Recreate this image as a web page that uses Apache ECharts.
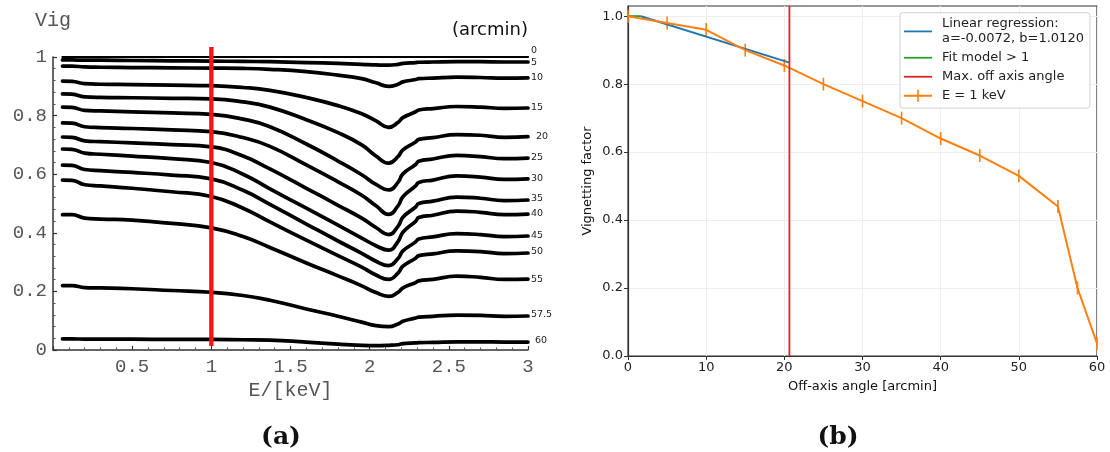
<!DOCTYPE html>
<html>
<head>
<meta charset="utf-8">
<script src="https://cdn.jsdelivr.net/npm/echarts@6/dist/echarts.min.js"></script>
<style>
  html, body { margin: 0; padding: 0; background: #fff; }
  #chart { width: 1110px; height: 452px; }
</style>
</head>
<body>
<div id="chart"></div>
<script>
// ---------- panel (a): vignetting vs. energy, one curve per off-axis angle ----------
const ENERGY_KEV = [0.06, 0.12, 0.2, 0.3, 0.5, 0.75, 1.0, 1.2, 1.37, 1.6, 1.8, 1.95, 2.04, 2.12, 2.18, 2.21, 2.29, 2.31, 2.4, 2.55, 2.7, 2.85, 3.0];

const VIG_0    = [1.000, 1.000, 1.000, 1.000, 1.000, 1.000, 1.000, 1.000, 1.000, 1.000, 1.000, 1.000, 1.000, 1.000, 1.000, 1.000, 1.000, 1.000, 1.000, 1.000, 1.000, 1.000, 1.000];
const VIG_5    = [0.990, 0.990, 0.989, 0.989, 0.988, 0.987, 0.986, 0.985, 0.984, 0.981, 0.978, 0.975, 0.973, 0.972, 0.975, 0.978, 0.981, 0.982, 0.983, 0.984, 0.984, 0.983, 0.983];
const VIG_10   = [0.969, 0.969, 0.966, 0.965, 0.964, 0.963, 0.962, 0.961, 0.958, 0.950, 0.938, 0.926, 0.912, 0.900, 0.907, 0.915, 0.923, 0.926, 0.928, 0.931, 0.930, 0.928, 0.929];
const VIG_15   = [0.918, 0.917, 0.909, 0.907, 0.906, 0.904, 0.902, 0.896, 0.886, 0.862, 0.834, 0.806, 0.782, 0.760, 0.777, 0.793, 0.813, 0.819, 0.824, 0.831, 0.829, 0.825, 0.826];
const VIG_20   = [0.874, 0.873, 0.864, 0.862, 0.861, 0.859, 0.857, 0.847, 0.829, 0.786, 0.742, 0.700, 0.662, 0.638, 0.661, 0.683, 0.710, 0.719, 0.725, 0.735, 0.733, 0.726, 0.728];
const VIG_25   = [0.829, 0.828, 0.818, 0.816, 0.813, 0.809, 0.804, 0.788, 0.762, 0.703, 0.645, 0.598, 0.565, 0.546, 0.573, 0.601, 0.633, 0.644, 0.652, 0.664, 0.660, 0.653, 0.655];
const VIG_30   = [0.775, 0.774, 0.762, 0.759, 0.756, 0.751, 0.745, 0.725, 0.695, 0.632, 0.574, 0.528, 0.492, 0.463, 0.493, 0.523, 0.560, 0.572, 0.580, 0.594, 0.590, 0.582, 0.584];
const VIG_35   = [0.727, 0.726, 0.714, 0.711, 0.707, 0.701, 0.693, 0.662, 0.618, 0.552, 0.494, 0.450, 0.418, 0.394, 0.423, 0.453, 0.488, 0.500, 0.508, 0.522, 0.518, 0.510, 0.512];
const VIG_40   = [0.686, 0.685, 0.672, 0.668, 0.662, 0.653, 0.640, 0.600, 0.550, 0.484, 0.426, 0.382, 0.356, 0.341, 0.371, 0.402, 0.439, 0.452, 0.460, 0.474, 0.470, 0.462, 0.464];
const VIG_45   = [0.631, 0.630, 0.616, 0.612, 0.606, 0.597, 0.584, 0.545, 0.497, 0.430, 0.372, 0.330, 0.303, 0.288, 0.313, 0.338, 0.369, 0.379, 0.386, 0.397, 0.394, 0.387, 0.389];
const VIG_50   = [0.580, 0.579, 0.564, 0.560, 0.552, 0.540, 0.524, 0.484, 0.437, 0.375, 0.322, 0.283, 0.256, 0.241, 0.263, 0.286, 0.313, 0.322, 0.328, 0.338, 0.336, 0.329, 0.331];
const VIG_55   = [0.462, 0.462, 0.450, 0.447, 0.443, 0.432, 0.417, 0.387, 0.350, 0.297, 0.253, 0.219, 0.196, 0.183, 0.197, 0.212, 0.230, 0.236, 0.241, 0.252, 0.248, 0.241, 0.242];
const VIG_57_5 = [0.220, 0.220, 0.213, 0.212, 0.209, 0.203, 0.197, 0.186, 0.170, 0.140, 0.115, 0.095, 0.083, 0.080, 0.089, 0.098, 0.109, 0.112, 0.115, 0.119, 0.118, 0.115, 0.116];
const VIG_60   = [0.038, 0.038, 0.037, 0.037, 0.037, 0.036, 0.036, 0.035, 0.034, 0.027, 0.020, 0.016, 0.015, 0.016, 0.018, 0.022, 0.024, 0.025, 0.026, 0.028, 0.028, 0.027, 0.027];

const CURVE_LABELS = ['0', '5', '10', '15', '20', '25', '30', '35', '40', '45', '50', '55', '57.5', '60'];
const CURVE_VALUES = [VIG_0, VIG_5, VIG_10, VIG_15, VIG_20, VIG_25, VIG_30, VIG_35, VIG_40, VIG_45, VIG_50, VIG_55, VIG_57_5, VIG_60];
// end-label nudges [dx, dy] so the angle tags sit beside their curves
const LABEL_NUDGE = [[0, -6], [0, 1], [0, 0], [0, 0], [5, 0], [0, -1], [0, 0], [0, -1], [0, -1], [0, 0], [0, -1], [0, 0], [0, -1], [4, -2]];

const MARK_ENERGY = 1.0;              // keV, vertical marker
const MARK_SPAN = [0.014, 1.034];

const X_TICKS_A = { min: 0, max: 3, interval: 0.5 };
const Y_TICKS_A = { min: 0, max: 1, interval: 0.2 };

// ---------- panel (b): vignetting at 1 keV vs. off-axis angle ----------
const ANGLE_ARCMIN = [0, 5, 10, 15, 20, 25, 30, 35, 40, 45, 50, 55, 57.5, 60];
const VIG_1KEV     = [1.000, 0.980, 0.960, 0.900, 0.855, 0.800, 0.750, 0.700, 0.640, 0.590, 0.530, 0.440, 0.200, 0.037];
const VIG_1KEV_ERR = [0.019, 0.019, 0.020, 0.019, 0.019, 0.019, 0.019, 0.019, 0.019, 0.019, 0.019, 0.019, 0.019, 0.019];

const FIT_A = -0.0072;
const FIT_B = 1.0120;
const MAX_OFF_AXIS = 20.65;           // arcmin
const Y_MAX_B = 1.03;
const Y_LABELS_B = [0, 0.2, 0.4, 0.6, 0.8, 1.0];

const NAME_FIT = 'Linear regression:\na=' + FIT_A.toFixed(4) + ', b=' + FIT_B.toFixed(4);
const NAME_GT1 = 'Fit model > 1';
const NAME_MAX = 'Max. off axis angle';
const NAME_E1 = 'E = 1 keV';

// where the linear model crosses 1: below that angle the model exceeds 1
const fitCross = (1 - FIT_B) / FIT_A;

const MONO = '"Liberation Mono", "DejaVu Sans Mono", monospace';
const SANS = '"DejaVu Sans", sans-serif';
const ICON_LINE = 'path://M0,5.1H28V6.9H0Z';
const ICON_ERRBAR = 'path://M0,5.1H28V6.9H0Z M13.2,0H14.8V12H13.2Z';

const seriesA = CURVE_VALUES.map((vals, k) => ({
  name: CURVE_LABELS[k],
  type: 'line',
  xAxisIndex: 0,
  yAxisIndex: 0,
  data: ENERGY_KEV.map((e, i) => [e, vals[i]]),
  symbol: 'none',
  smooth: 0.5,
  silent: true,
  lineStyle: { color: '#000', width: k === 0 ? 2.2 : 3.7, cap: 'round', join: 'round' },
  endLabel: {
    show: true,
    formatter: '{a}',
    distance: 3,
    offset: LABEL_NUDGE[k],
    fontFamily: SANS,
    fontSize: 9.5,
    color: '#222'
  }
}));

seriesA.push({
  name: 'marker',
  type: 'line',
  xAxisIndex: 0,
  yAxisIndex: 0,
  data: MARK_SPAN.map(v => [MARK_ENERGY, v]),
  symbol: 'none',
  clip: false,
  silent: true,
  lineStyle: { color: '#ff1111', width: 4.3 },
  z: 5
});

const seriesB = [
  {
    name: NAME_FIT,
    type: 'line',
    xAxisIndex: 1, yAxisIndex: 1,
    data: [fitCross, MAX_OFF_AXIS].map(x => [x, FIT_A * x + FIT_B]),
    symbol: 'none',
    lineStyle: { color: '#1f77b4', width: 2 },
    itemStyle: { color: '#1f77b4' }
  },
  {
    name: NAME_GT1,
    type: 'line',
    xAxisIndex: 1, yAxisIndex: 1,
    data: [[0, 1], [fitCross, 1]],
    symbol: 'none',
    lineStyle: { color: '#2ca02c', width: 2 },
    itemStyle: { color: '#2ca02c' }
  },
  {
    name: NAME_E1,
    type: 'line',
    xAxisIndex: 1, yAxisIndex: 1,
    data: ANGLE_ARCMIN.map((a, i) => [a, VIG_1KEV[i]]),
    symbol: 'none',
    lineStyle: { color: '#ff7f0e', width: 2 },
    itemStyle: { color: '#ff7f0e' }
  },
  {
    name: 'E = 1 keV errors',
    type: 'custom',
    xAxisIndex: 1, yAxisIndex: 1,
    data: ANGLE_ARCMIN.map((a, i) => [a, VIG_1KEV[i] - VIG_1KEV_ERR[i], VIG_1KEV[i] + VIG_1KEV_ERR[i]]),
    encode: { x: 0, y: [1, 2] },
    renderItem: (params, api) => {
      const lo = api.coord([api.value(0), api.value(1)]);
      const hi = api.coord([api.value(0), api.value(2)]);
      return {
        type: 'line',
        shape: { x1: lo[0], y1: lo[1], x2: hi[0], y2: hi[1] },
        style: { stroke: '#ff7f0e', lineWidth: 1.6 }
      };
    },
    silent: true
  },
  {
    name: NAME_MAX,
    type: 'line',
    xAxisIndex: 1, yAxisIndex: 1,
    data: [[MAX_OFF_AXIS, 0], [MAX_OFF_AXIS, Y_MAX_B]],
    symbol: 'none',
    lineStyle: { color: '#d62728', width: 1.8 },
    itemStyle: { color: '#d62728' }
  }
];

const chart = echarts.init(document.getElementById('chart'), null, { renderer: 'canvas' });

chart.setOption({
  animation: false,
  backgroundColor: '#fff',
  grid: [
    { left: 53, top: 57, width: 475, height: 293 },
    { left: 628, top: 6, width: 469, height: 350, show: true, borderColor: '#333', borderWidth: 1.2, backgroundColor: 'transparent' }
  ],
  xAxis: [
    {
      gridIndex: 0, type: 'value',
      min: X_TICKS_A.min, max: X_TICKS_A.max, interval: X_TICKS_A.interval,
      name: 'E/[keV]', nameLocation: 'middle', nameGap: 27,
      nameTextStyle: { fontFamily: MONO, fontSize: 20, color: '#555' },
      axisLine: { lineStyle: { color: '#333', width: 1.5 } },
      axisTick: { inside: true, length: 4, lineStyle: { color: '#333', width: 1.2 } },
      minorTick: { show: true, splitNumber: 5, length: 2.5, lineStyle: { color: '#555', width: 1 } },
      axisLabel: { showMinLabel: false, fontFamily: MONO, fontSize: 19, color: '#555', margin: 7 },
      splitLine: { show: false }
    },
    {
      gridIndex: 1, type: 'value',
      min: 0, max: 60, interval: 10,
      name: 'Off-axis angle [arcmin]', nameLocation: 'middle', nameGap: 24,
      nameTextStyle: { fontFamily: SANS, fontSize: 13, color: '#111' },
      axisLine: { onZero: false, lineStyle: { color: '#333', width: 1.2 } },
      axisTick: { length: 4, lineStyle: { color: '#333', width: 1 } },
      axisLabel: { fontFamily: SANS, fontSize: 13, color: '#222', margin: 5 },
      splitLine: { show: true, lineStyle: { color: '#eeeeee', width: 1 } }
    }
  ],
  yAxis: [
    {
      gridIndex: 0, type: 'value',
      min: Y_TICKS_A.min, max: Y_TICKS_A.max, interval: Y_TICKS_A.interval,
      name: 'Vig', nameLocation: 'end', nameGap: 26,
      nameTextStyle: { fontFamily: MONO, fontSize: 20, color: '#555' },
      axisLine: { show: true, lineStyle: { color: '#333', width: 1.5 } },
      axisTick: { show: true, inside: true, length: 4, lineStyle: { color: '#333', width: 1.2 } },
      minorTick: { show: true, splitNumber: 5, length: 2.5, lineStyle: { color: '#555', width: 1 } },
      axisLabel: { fontFamily: MONO, fontSize: 19, color: '#555', margin: 6 },
      splitLine: { show: false }
    },
    {
      gridIndex: 1, type: 'value',
      min: 0, max: Y_MAX_B,
      name: 'Vignetting factor', nameLocation: 'middle', nameGap: 34,
      nameTextStyle: { fontFamily: SANS, fontSize: 13, color: '#111' },
      axisLine: { show: true, onZero: false, lineStyle: { color: '#333', width: 1.2 } },
      axisTick: { show: true, length: 4, customValues: Y_LABELS_B, lineStyle: { color: '#333', width: 1 } },
      axisLabel: { customValues: Y_LABELS_B, formatter: v => v.toFixed(1), fontFamily: SANS, fontSize: 13, color: '#222', margin: 5 },
      splitLine: { show: true, lineStyle: { color: '#eeeeee', width: 1 } }
    }
  ],
  legend: {
    orient: 'vertical',
    left: 900, top: 12.7,
    data: [
      { name: NAME_FIT, icon: ICON_LINE },
      { name: NAME_GT1, icon: ICON_LINE },
      { name: NAME_MAX, icon: ICON_LINE },
      { name: NAME_E1, icon: ICON_ERRBAR }
    ],
    itemWidth: 28, itemHeight: 12, itemGap: 4.3,
    padding: [4, 6, 5, 4],
    backgroundColor: 'rgba(255,255,255,0.85)',
    borderColor: '#d0d0d0', borderWidth: 1, borderRadius: 3,
    selectedMode: false,
    textStyle: { fontFamily: SANS, fontSize: 13, lineHeight: 14.7, color: '#222', padding: [0, 0, 0, 5] }
  },
  graphic: [
    { type: 'text', left: 452, top: 21, style: { text: '(arcmin)', font: '18px "DejaVu Sans"', fill: '#111' } },
    { type: 'text', x: 281, y: 437, style: { text: '(a)', font: 'bold 25px "DejaVu Serif"', fill: '#111', textAlign: 'center', textVerticalAlign: 'middle' } },
    { type: 'text', x: 838, y: 437, style: { text: '(b)', font: 'bold 25px "DejaVu Serif"', fill: '#111', textAlign: 'center', textVerticalAlign: 'middle' } }
  ],
  series: seriesA.concat(seriesB)
});
</script>
</body>
</html>
